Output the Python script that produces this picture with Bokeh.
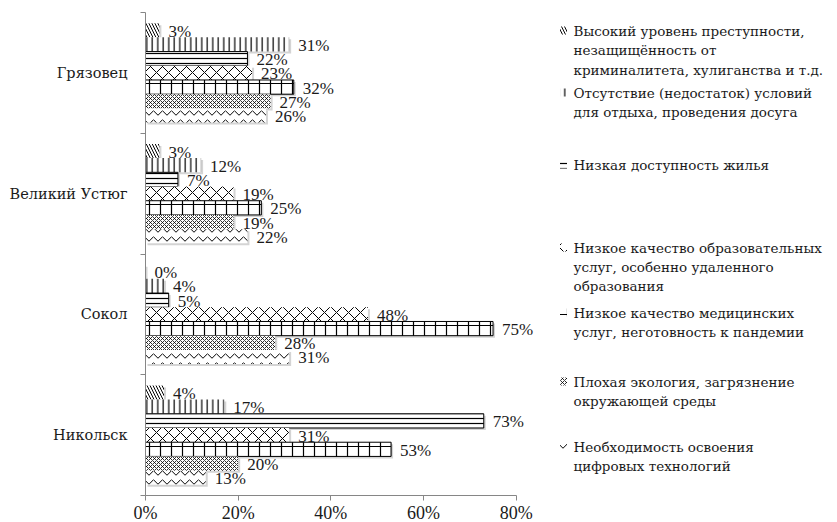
from bokeh.plotting import figure
from bokeh.models import Range1d, FixedTicker, PrintfTickFormatter
from bokeh.core.properties import value
from bokeh.embed import file_html
from bokeh.resources import INLINE

# ---------------- data ----------------
cities = ["Грязовец", "Великий Устюг", "Сокол", "Никольск"]  # top -> bottom

series_names = [
    ["Высокий уровень преступности,", "незащищённость от", "криминалитета, хулиганства и т.д."],
    ["Отсутствие (недостаток) условий", "для отдыха, проведения досуга"],
    ["Низкая доступность жилья"],
    ["Низкое качество образовательных", "услуг, особенно удаленного", "образования"],
    ["Низкое качество медицинских", "услуг, неготовность к пандемии"],
    ["Плохая экология, загрязнение", "окружающей среды"],
    ["Необходимость освоения", "цифровых технологий"],
]

crime     = [3, 3, 0, 4]
leisure   = [31, 12, 4, 17]
housing   = [22, 7, 5, 73]
education = [23, 19, 48, 31]
medicine  = [32, 25, 75, 53]
ecology   = [27, 19, 28, 20]
digital   = [26, 22, 31, 13]
series_values = [crime, leisure, housing, education, medicine, ecology, digital]

x_ticks = [0, 20, 40, 60, 80]

# ---------------- styles ----------------
hatch_styles = [
    dict(hatch_pattern="\\", hatch_scale=6, hatch_weight=1.0, line_color=None),
    dict(hatch_pattern="|", hatch_scale=5.5, hatch_weight=1.2, line_color=None),
    dict(hatch_pattern="-", hatch_scale=5, hatch_weight=1.2, line_color="black"),
    dict(hatch_pattern="x", hatch_scale=12, hatch_weight=1.0, line_color=None),
    dict(hatch_pattern="+", hatch_scale=11, hatch_weight=1.2, line_color="black"),
    dict(hatch_pattern="x", hatch_scale=4, hatch_weight=0.8, line_color=None),
    dict(hatch_pattern="v", hatch_scale=9, hatch_weight=1.0, line_color=None),
]

NUM_FONT = "Liberation Serif"
CYR_FONT = "DejaVu Serif"
TEXT_COLOR = "#1a1a1a"
AXIS_COLOR = "#868686"
SHADOW_COLOR = "#d4d4d4"

W, H = 837, 522
AX_LEFT = 145         # px of x = 0
PX_PER_PCT = 370.7 / 80.0
BAND_PX = 483.0 / 4.0
ZERO_Y = 495          # px of y = 0 (bottom of category bands)
n_series = len(series_values)
bar_h = 1.0 / (n_series + 1.5)
SH_DX = 2.0 / PX_PER_PCT
SH_DY = 2.0 / BAND_PX


def px_x(px):
    return (px - AX_LEFT) / PX_PER_PCT


def px_y(py):
    return (ZERO_Y - py) / BAND_PX


p = figure(width=W, height=H, title=None,
           x_range=Range1d(px_x(0), px_x(W)), y_range=Range1d(px_y(H), px_y(0)),
           output_backend="svg", toolbar_location=None,
           min_border_left=0, min_border_right=0, min_border_top=0, min_border_bottom=0)
p.outline_line_color = None
p.xgrid.visible = False
p.ygrid.visible = False
p.background_fill_color = "white"

# bar positions
bar_ys = []
for si in range(n_series):
    k = n_series - 1 - si          # 0 = bottom bar in each group
    bar_ys.append([(len(cities) - 1 - ci) + 0.5 + (k - (n_series - 1) / 2) * bar_h
                   for ci in range(len(cities))])

# soft shadows (Excel style)
for vals, ys in zip(series_values, bar_ys):
    p.hbar(y=[y - SH_DY for y in ys], left=SH_DX, right=[v + SH_DX if v > 0 else 0 for v in vals],
           height=bar_h, fill_color=SHADOW_COLOR, line_color=None)

# bars + labels
for vals, ys, st in zip(series_values, bar_ys, hatch_styles):
    p.hbar(y=ys, left=0, right=vals, height=bar_h, fill_color="white",
           hatch_color="black", line_width=1, **st)
    p.text(x=vals, y=ys, text=[f"{v}%" for v in vals], x_offset=9, y_offset=1,
           text_baseline="middle", text_align="left", text_font=value(NUM_FONT),
           text_font_size="17px", text_color=TEXT_COLOR)

# legend (manual, multi-line)
legend_lines_y = [
    [30, 49.5, 69],
    [92, 111.5],
    [164],
    [247, 266, 285],
    [312, 331],
    [381, 400],
    [446, 465],
]
for lines, ly, st in zip(series_names, legend_lines_y, hatch_styles):
    sst = {k: v for k, v in st.items() if k != "line_color"}
    p.rect(x=[px_x(563)], y=[px_y(ly[0])], width=7, height=8,
           width_units="screen", height_units="screen", fill_color="white",
           hatch_color="black", line_color=None, **sst)
    p.text(x=[px_x(573)] * len(lines), y=[px_y(v) for v in ly], text=lines,
           text_baseline="middle", text_align="left", text_font=value(CYR_FONT),
           text_font_size="13.5px", text_color=TEXT_COLOR)

# x axis
xa = p.xaxis[0]
xa.fixed_location = 0
xa.bounds = (0, 80)
xa.ticker = FixedTicker(ticks=x_ticks, minor_ticks=[])
xa.formatter = PrintfTickFormatter(format="%d%%")
xa.major_tick_out = 5
xa.major_tick_in = 0
xa.minor_tick_out = 0
xa.minor_tick_in = 0
xa.major_label_standoff = 2
xa.axis_line_color = AXIS_COLOR
xa.major_tick_line_color = AXIS_COLOR
xa.major_label_text_font = NUM_FONT
xa.major_label_text_font_size = "18px"
xa.major_label_text_color = TEXT_COLOR

# y axis
ya = p.yaxis[0]
ya.fixed_location = 0
centers = [i + 0.5 for i in range(len(cities))]
ya.ticker = FixedTicker(ticks=centers, minor_ticks=list(range(len(cities) + 1)))
ya.bounds = (0, len(cities))
ya.major_label_overrides = {c: name for c, name in zip(centers, reversed(cities))}
ya.major_tick_out = 0
ya.major_tick_in = 0
ya.minor_tick_out = 5
ya.minor_tick_in = 0
ya.major_label_standoff = 13
ya.axis_line_color = AXIS_COLOR
ya.minor_tick_line_color = AXIS_COLOR
ya.major_label_text_font = CYR_FONT
ya.major_label_text_font_size = "14.5px"
ya.major_label_text_color = TEXT_COLOR

open("out.html", "w").write(file_html(p, INLINE))
